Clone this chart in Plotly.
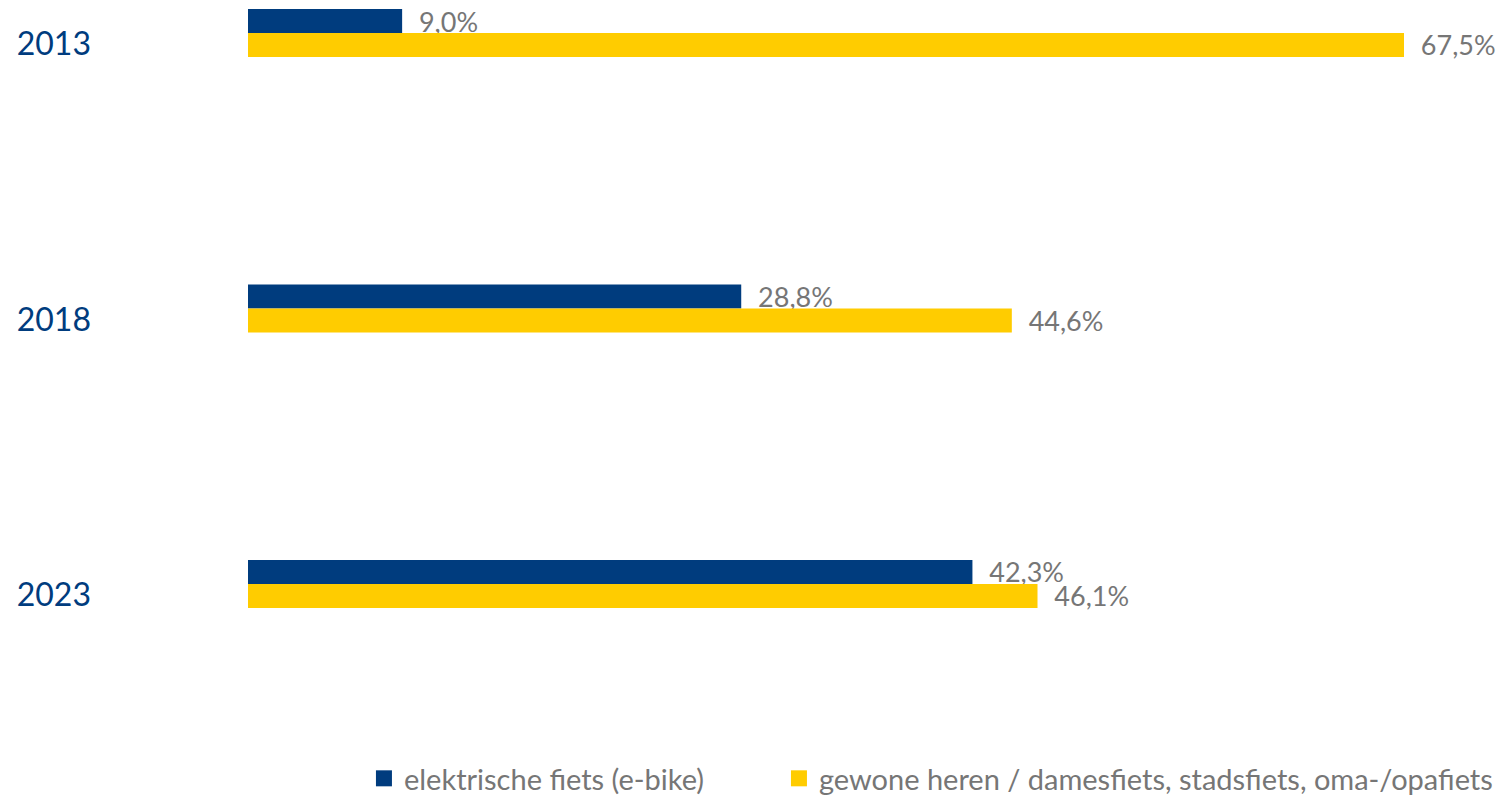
import plotly.graph_objects as go

years = ['2013', '2018', '2023']
ebike = [9.0, 28.8, 42.3]
gewoon = [67.5, 44.6, 46.1]
names = ['elektrische fiets (e-bike)', 'gewone heren / damesfiets, stadsfiets, oma-/opafiets']

blue = '#003C7E'
yellow = '#FFCC00'
grey = '#767676'
font = 'Lato'


def pct(vals):
    # komma als decimaalteken, met wat ruimte na de balk
    return ['\u00a0\u00a0' + f'{v:.1f}%'.replace('.', ',') for v in vals]


fig = go.Figure()

series = [(ebike, names[0], blue, 'legend'), (gewoon, names[1], yellow, 'legend2')]
for vals, name, col, leg in series:
    fig.add_trace(go.Bar(
        y=years, x=vals, name=name, orientation='h',
        marker_color=col, marker_line_width=0,
        text=pct(vals), textposition='outside',
        textfont=dict(color=grey, size=27, family=font),
        constraintext='none', cliponaxis=False, showlegend=False
    ))
    # legend-item met grotere vierkante marker
    fig.add_trace(go.Scatter(
        x=[None], y=[None], mode='markers', name=name, legend=leg,
        marker=dict(symbol='square', size=16, color=col)
    ))

leg_style = dict(orientation='h', y=-0.0552, yanchor='top', xanchor='left',
                 font=dict(size=29, color=grey, family=font), itemwidth=30)

fig.update_layout(
    width=1498, height=788,
    barmode='group', bargap=0.826, bargroupgap=0,
    plot_bgcolor='white', paper_bgcolor='white',
    margin=dict(l=240, r=102, t=0, b=82, autoexpand=False),
    font=dict(family=font, color=grey),
    showlegend=True,
    legend=dict(x=0.1003, **leg_style),
    legend2=dict(x=0.4593, **leg_style),
    xaxis=dict(range=[0, 67.5], visible=False, fixedrange=True, automargin=False),
    yaxis=dict(range=[2.472, -0.0907], showgrid=False, zeroline=False, showline=False,
               ticks='', tickfont=dict(size=32, color=blue, family=font),
               ticklabelstandoff=156, ticklabelshift=-11, automargin=False),
)

fig.write_html('out.html')
